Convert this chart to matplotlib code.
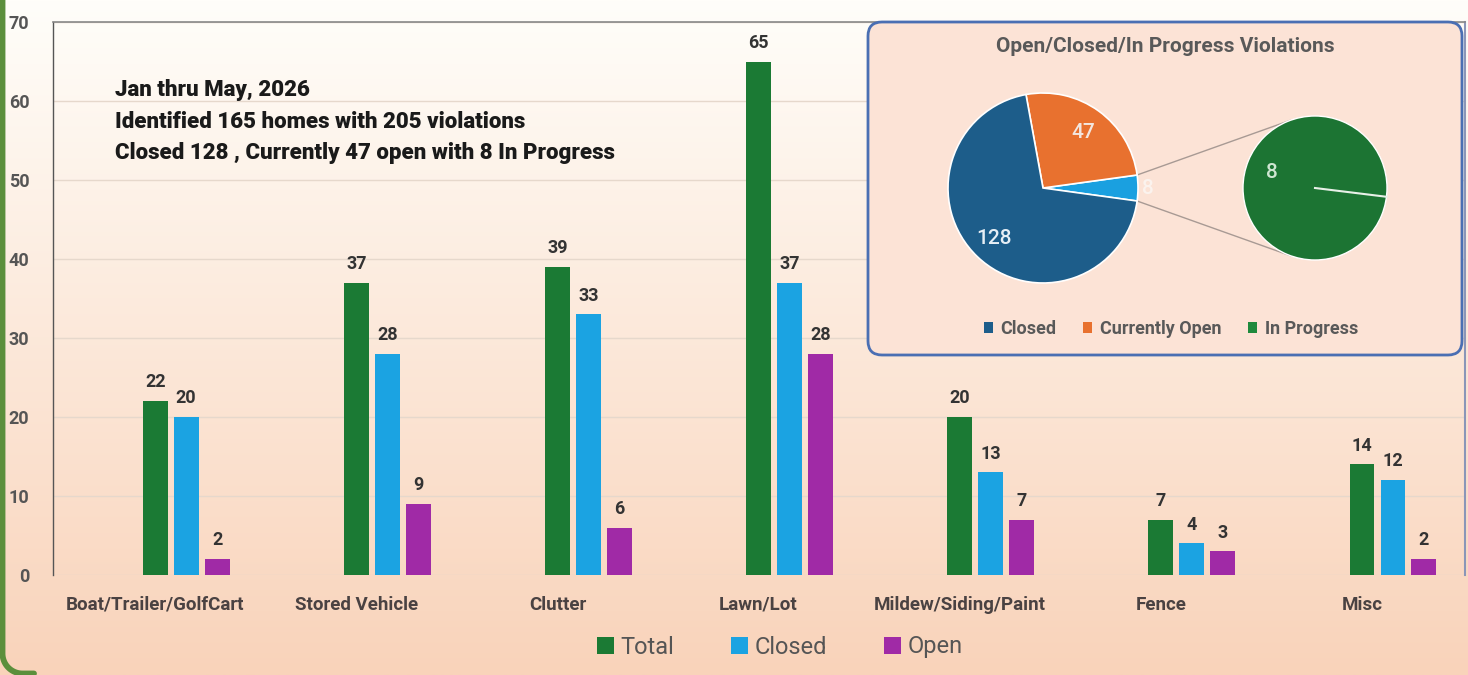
import numpy as np
import matplotlib
matplotlib.use("Agg")
import matplotlib.pyplot as plt
from matplotlib.patches import FancyBboxPatch, Patch

# ---------------- data ----------------
categories = ["Boat/Trailer/GolfCart", "Stored Vehicle", "Clutter", "Lawn/Lot",
              "Mildew/Siding/Paint", "Fence", "Misc"]
total = [22, 37, 39, 65, 20, 7, 14]
closed = [20, 28, 33, 37, 13, 4, 12]
open_ = [2, 9, 6, 28, 7, 3, 2]
series_names = ["Total", "Closed", "Open"]
y_ticks = [0, 10, 20, 30, 40, 50, 60, 70]

pie_labels = ["Closed", "Currently Open", "In Progress"]
pie_values = [128, 47, 8]
secondary_values = [8]

summary_lines = ["Jan thru May, 2026",
                 "Identified 165 homes with 205 violations",
                 "Closed 128 , Currently 47 open with 8 In Progress"]
pie_title = "Open/Closed/In Progress Violations"

# ---------------- style ----------------
plt.rcParams['font.family'] = ['Roboto', 'DejaVu Sans']
bar_colors = ['#1b7a34', '#1ba3e2', '#a02aa6']
pie_colors = {'Closed': '#1d5d8a', 'Currently Open': '#e8712f', 'In Progress': '#1aa0e0'}
legend_pie_colors = ['#1d5d8a', '#e8712f', '#1f8a3d']
sec_color = '#1c7433'

W, H = 1468, 675
fig = plt.figure(figsize=(W / 100, H / 100), dpi=100)

def fx(x):
    return x / W

def fy(y):
    return 1 - y / H

# background gradient
bg = fig.add_axes([0, 0, 1, 1], zorder=-10)
bg.set_axis_off()
top = np.array([255, 254, 250]) / 255
bot = np.array([249, 211, 186]) / 255
t = np.linspace(0, 1, 256)[:, None]
grad = top * (1 - t) + bot * t
img = np.repeat(grad[:, None, :], 2, axis=1)
bg.imshow(img, aspect='auto', extent=(0, W, H, 0), origin='upper')
bg.set_xlim(0, W)
bg.set_ylim(H, 0)
# green frame (left edge with rounded bottom-left corner)
rc = 20
th = np.linspace(np.pi, np.pi / 2, 30)
corner_x = 2.5 + rc + rc * np.cos(th)
corner_y = 673.5 - rc + rc * np.sin(th)
frame_x = np.concatenate([[2.5], corner_x, [34]])
frame_y = np.concatenate([[-5], corner_y, [673.5]])
bg.plot(frame_x, frame_y, color='#5b8f3c', lw=4.2, solid_capstyle='round')

# ---------------- bar chart ----------------
ax = fig.add_axes([fx(53), fy(575), fx(1465) - fx(53), (575 - 22) / H])
ax.set_facecolor('none')
x = np.arange(len(categories))
bw = 0.124
offs = [-0.154, 0.0, 0.154]
for vals, off, col, name in zip([total, closed, open_], offs, bar_colors, series_names):
    bars = ax.bar(x + off, vals, bw, color=col, label=name, zorder=3)
    ax.bar_label(bars, padding=7, fontsize=13, fontweight='bold', color='#333333')

ax.set_xlim(-0.662, 6.358)
ax.set_ylim(0, 70)
ax.set_yticks(y_ticks)
ax.set_yticklabels([str(v) for v in y_ticks])
ax.set_xticks(x + offs[0])
ax.set_xticklabels(categories)
ax.tick_params(axis='y', length=0, pad=17, labelsize=13, labelcolor='#555555')
ax.tick_params(axis='x', length=0, pad=15, labelsize=13.5, labelcolor='#4a4242')
for lab in ax.get_xticklabels() + ax.get_yticklabels():
    lab.set_fontweight('bold')
ax.yaxis.grid(True, color='#e6d8cc', linewidth=1, zorder=0)
ax.set_axisbelow(True)
ax.spines['bottom'].set_visible(False)
ax.spines['left'].set_color('#555555')
ax.spines['left'].set_linewidth(1)
ax.spines['top'].set_color('#888888')
ax.spines['top'].set_linewidth(1.2)
ax.spines['right'].set_color('#8a96b8')
ax.spines['right'].set_linewidth(1.5)

for i, line in enumerate(summary_lines):
    fig.text(fx(115), fy(90 + 31.5 * i), line, ha='left', va='center',
             fontsize=16, fontweight='black', color='#1a1a1a')

handles = [Patch(facecolor=c, edgecolor='none') for c in bar_colors]
fig.legend(handles, series_names, loc='center', bbox_to_anchor=(fx(780), fy(647)),
           ncol=3, frameon=False, fontsize=17, handlelength=0.7, handleheight=0.7,
           handletextpad=0.3, columnspacing=2.4, labelcolor='#555555')

# ---------------- pie of pie inset ----------------
ax_in = fig.add_axes([0, 0, 1, 1], zorder=5)
ax_in.set_facecolor('none')

def Y(y):
    return H - y

ax_in.add_patch(FancyBboxPatch((868, Y(355)), 1462 - 868, 355 - 22,
                               boxstyle="round,pad=0,rounding_size=14",
                               facecolor='#fce3d6', edgecolor='#4a6fb3', linewidth=2, zorder=1))

vals_draw = pie_values[::-1]
cols_draw = [pie_colors[n] for n in pie_labels[::-1]]
other_angle = pie_values[2] / sum(pie_values) * 360
c1 = (1043, Y(188))
r1 = 95
wedges, _ = ax_in.pie(vals_draw, colors=cols_draw, startangle=-other_angle / 2,
                      counterclock=True, center=c1, radius=r1, frame=True,
                      wedgeprops=dict(edgecolor='white', linewidth=1.2))
for w in wedges:
    w.set_zorder(3)
label_cols = ['#fbf3ee', '#f3e6df', '#e6eef5']
label_r = [1.1, 0.72, 0.74]
for w, v, lc, lr in zip(wedges, vals_draw, label_cols, label_r):
    mid = np.deg2rad((w.theta1 + w.theta2) / 2)
    ax_in.text(c1[0] + lr * r1 * np.cos(mid), c1[1] + lr * r1 * np.sin(mid), str(v),
               ha='center', va='center', fontsize=15, fontweight='medium', color=lc, zorder=4)

c2 = (1315, Y(188))
r2 = 72
sec_start = -7
wedges2, _ = ax_in.pie(secondary_values, colors=[sec_color], startangle=sec_start,
                       center=c2, radius=r2, frame=True,
                       wedgeprops=dict(edgecolor='white', linewidth=1.0))
for w in wedges2:
    w.set_zorder(3)
a = np.deg2rad(sec_start)
ax_in.plot([c2[0], c2[0] + r2 * np.cos(a)], [c2[1], c2[1] + r2 * np.sin(a)],
           color='#e8f0e8', lw=1.5, zorder=4)
ax_in.text(c2[0] - 43, c2[1] + 16, str(secondary_values[0]), ha='center', va='center',
           fontsize=15, fontweight='medium', color='#cfe6d2', zorder=4)

# connector lines
for sgn, ang2 in [(1, 110), (-1, 250)]:
    a1 = np.deg2rad(sgn * other_angle / 2)
    a2 = np.deg2rad(ang2)
    ax_in.plot([c1[0] + r1 * np.cos(a1), c2[0] + r2 * np.cos(a2)],
               [c1[1] + r1 * np.sin(a1), c2[1] + r2 * np.sin(a2)],
               color='#a89a94', lw=1, zorder=2)

ax_in.text(1165, Y(47), pie_title, ha='center', va='center', fontsize=15,
           fontweight='bold', color='#595959', zorder=4)

ph = [Patch(facecolor=c, edgecolor='none') for c in legend_pie_colors]
leg = ax_in.legend(ph, pie_labels, loc='center', bbox_to_anchor=(1171, Y(329)),
                   bbox_transform=ax_in.transData, ncol=3, frameon=False, fontsize=13,
                   handlelength=0.5, handleheight=0.5, handletextpad=0.4,
                   columnspacing=1.5, labelcolor='#595959')
for txt in leg.get_texts():
    txt.set_fontweight('bold')
leg.set_zorder(6)

ax_in.set_xlim(0, W)
ax_in.set_ylim(0, H)
ax_in.set_aspect('auto')
ax_in.set_axis_off()

fig.savefig("out.png", dpi=100)
